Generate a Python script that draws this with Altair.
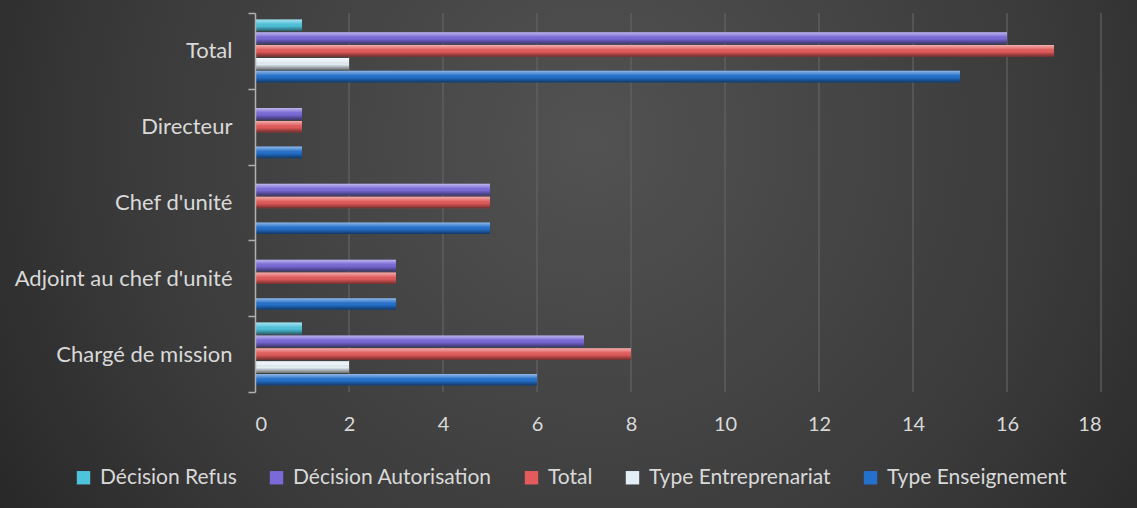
import altair as alt
import pandas as pd

categories = ["Total", "Directeur", "Chef d'unité", "Adjoint au chef d'unité", "Chargé de mission"]
series = ["Décision Refus", "Décision Autorisation", "Total", "Type Entreprenariat", "Type Enseignement"]
decision_refus = [1, 0, 0, 0, 1]
decision_autorisation = [16, 1, 5, 3, 7]
total = [17, 1, 5, 3, 8]
type_entreprenariat = [2, 0, 0, 0, 2]
type_enseignement = [15, 1, 5, 3, 6]
colors = ["#4fc3dc", "#7a6ad8", "#e35b5b", "#e4eef5", "#2471cc"]
x_ticks = list(range(0, 19, 2))

values_by_series = [decision_refus, decision_autorisation, total, type_entreprenariat, type_enseignement]
rows = []
for s, vals in zip(series, values_by_series):
    for c, v in zip(categories, vals):
        rows.append({"cat": c, "serie": s, "val": v})
df = pd.DataFrame(rows)
grid_df = pd.DataFrame({"t": x_ticks[1:]})

W, H = 846, 379
PAD = {"left": 255, "top": 13, "right": 36, "bottom": 116}
FONT = "Lato"
TXT = "#d9d9d9"

bg = alt.Chart(alt.Data(values=[{"a": 1}])).mark_rect(
    fill=alt.RadialGradient(
        gradient="radial",
        stops=[alt.GradientStop(color="#525252", offset=0),
               alt.GradientStop(color="#3a3a3a", offset=0.55),
               alt.GradientStop(color="#1c1c1c", offset=1)],
        x1=0.52, y1=0.4, r1=0, x2=0.52, y2=0.4, r2=0.75,
    )
).encode(
    x=alt.value(-PAD["left"]), x2=alt.value(W + PAD["right"]),
    y=alt.value(-PAD["top"]), y2=alt.value(H + PAD["bottom"]),
)

gridlines = alt.Chart(grid_df).mark_rule(color="#636363", strokeWidth=1.2).encode(
    x=alt.X("t:Q"), y=alt.value(0), y2=alt.value(H)
)

y_enc = alt.Y("cat:N", sort=categories, title=None,
              scale=alt.Scale(paddingInner=0, paddingOuter=0),
              axis=alt.Axis(tickBand="extent", domainColor="#b0b0b0", domainWidth=1.5,
                            tickColor="#b0b0b0", tickWidth=1.5, tickSize=7,
                            labelPadding=16, labelFontSize=22, labelColor=TXT,
                            labelFont=FONT, grid=False, zindex=2, labelLimit=0))
yoff_enc = alt.YOffset("serie:N", sort=series,
                       scale=alt.Scale(paddingInner=0.1, paddingOuter=0.5))
x_enc = alt.X("val:Q", title=None, scale=alt.Scale(domain=[0, 18]),
              axis=alt.Axis(values=x_ticks, domain=False, ticks=False, grid=False,
                            labelPadding=22, zindex=2,
                            labelFontSize=20, labelColor=TXT, labelFont=FONT))

bars = alt.Chart(df).mark_bar().encode(
    y=y_enc, yOffset=yoff_enc, x=x_enc,
    color=alt.Color("serie:N", sort=series,
                    scale=alt.Scale(domain=series, range=colors),
                    legend=alt.Legend(title=None, orient="none", legendX=-182, legendY=454,
                                      direction="horizontal", columns=5, padding=0,
                                      symbolType="square", symbolSize=180,
                                      symbolStrokeWidth=0, labelFontSize=21,
                                      labelColor=TXT, labelFont=FONT, labelLimit=0,
                                      columnPadding=29, labelOffset=6, zindex=2)),
)

shine = alt.Chart(df).mark_bar(
    fill=alt.LinearGradient(
        gradient="linear",
        stops=[alt.GradientStop(color="rgba(255,255,255,0.5)", offset=0),
               alt.GradientStop(color="rgba(255,255,255,0.15)", offset=0.3),
               alt.GradientStop(color="rgba(0,0,0,0)", offset=0.55),
               alt.GradientStop(color="rgba(0,0,0,0.5)", offset=1)],
        x1=0, x2=0, y1=0, y2=1,
    )
).encode(y=alt.Y("cat:N", sort=categories), yOffset=alt.YOffset("serie:N", sort=series), x="val:Q")

chart = alt.layer(bg, gridlines, bars, shine).properties(
    width=W, height=H, autosize=alt.AutoSizeParams(type="none"), padding=PAD,
    background="#2a2a2a",
).configure_view(stroke=None)

chart.save("out.html", embed_options={"renderer": "svg", "actions": False})
